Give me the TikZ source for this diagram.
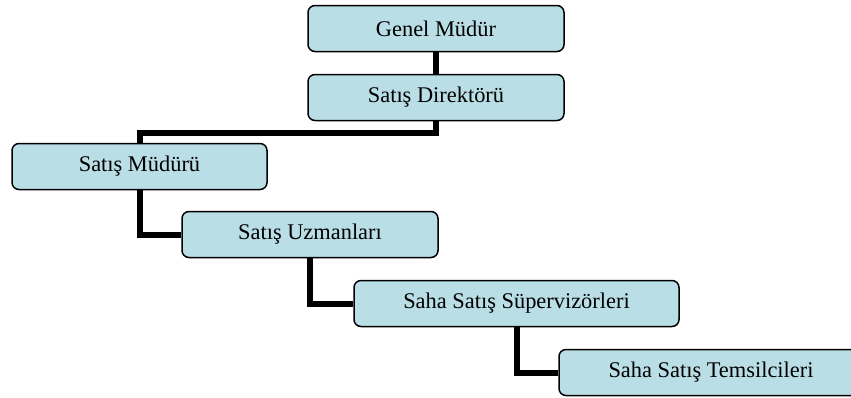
\documentclass[tikz,border=0pt]{standalone}
\usepackage{fontspec}
\setmainfont{Liberation Serif}
\usetikzlibrary{backgrounds}
\definecolor{boxfill}{RGB}{186,222,229}
\begin{document}
\begin{tikzpicture}[x=1pt,y=-1pt,
  orgbox/.style={draw=black, line width=1.5pt, fill=boxfill, rounded corners=7pt,
    minimum height=46pt, inner sep=0pt, font=\fontsize{22.4}{26}\selectfont},
  link/.style={draw=black, line width=6pt}]
  \useasboundingbox (0,0) rectangle (851,397);
  \clip (0,0) rectangle (851,397);
  % hierarchy boxes
  \node[orgbox, minimum width=256pt] (gm) at (436,28.5) {Genel Müdür};
  \node[orgbox, minimum width=256pt] (sd) at (436,97.5) {Satış Direktörü};
  \node[orgbox, minimum width=255pt] (sm) at (139.5,166.5) {Satış Müdürü};
  \node[orgbox, minimum width=256pt] (su) at (310,234.5) {Satış Uzmanları};
  \node[orgbox, minimum width=325pt] (ss) at (516.5,303.5) {Saha Satış Süpervizörleri};
  \node[orgbox, minimum width=304pt] (st) at (711,372.5) {Saha Satış Temsilcileri};
  % connectors behind the boxes
  \begin{scope}[on background layer]
    \draw[link] (gm.south) -- (sd.north);
    \draw[link] (sd.south) -- ++(0,11.5) -| (sm.north);
    \draw[link] (sm.south) |- (su.west);
    \draw[link] (su.south) |- (ss.west);
    \draw[link] (ss.south) |- (st.west);
  \end{scope}
\end{tikzpicture}
\end{document}
